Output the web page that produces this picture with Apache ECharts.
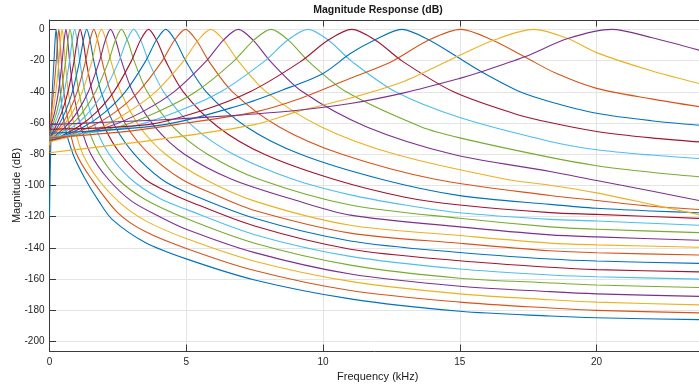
<!DOCTYPE html>
<html>
<head>
<meta charset="utf-8">
<script src="https://cdn.jsdelivr.net/npm/echarts@6/dist/echarts.min.js"></script>
<style>
  html, body { margin: 0; padding: 0; background: #ffffff; }
  #chart { width: 699px; height: 385px; }
</style>
</head>
<body>
<div id="chart"></div>
<script>
// Filter bank magnitude responses: each channel is a list of [frequency (kHz), magnitude (dB)].
const ch01 = [[0,-120],[0.02,-96],[0.05,-72],[0.09,-44],[0.163,-20.5],[0.204,-7],[0.24,0],[0.276,-7],[0.317,-20.5],[0.395,-40],[0.55,-61],[0.86,-80],[1.31,-96],[1.8,-110],[2.29,-121.7],[3.5,-136.5],[5,-147],[7.5,-160.5],[11,-172.6],[15,-180.5],[18.3,-183.6],[20,-184.7],[24,-186]];
const ch02 = [[0,-78],[0.06,-55],[0.152,-40],[0.246,-20.5],[0.296,-7],[0.34,0],[0.384,-7],[0.434,-20.5],[0.528,-40],[0.716,-62],[0.966,-79],[1.54,-96],[2.5,-117.5],[3.5,-129.5],[5,-140.3],[7.5,-154.5],[11,-167.3],[15,-174.7],[18.3,-178.5],[20,-180],[24,-181.7]];
const ch03 = [[0,-74],[0.04,-62],[0.12,-53],[0.233,-40],[0.346,-20.5],[0.407,-7],[0.46,0],[0.513,-7],[0.574,-20.5],[0.687,-40],[0.915,-62.5],[1.218,-80],[1.78,-96],[2.6,-111.5],[3.5,-122.5],[5,-134],[7.5,-148.5],[11,-161.4],[15,-169.4],[18.3,-173.2],[20,-174.7],[24,-176.6]];
const ch04 = [[0,-72],[0.053,-62],[0.19,-53],[0.326,-40],[0.463,-20.5],[0.536,-7],[0.6,0],[0.664,-7],[0.737,-20.5],[0.874,-40],[1.147,-62.5],[1.512,-80],[2.15,-96],[3,-110],[4,-119.7],[5,-128],[7.5,-143],[11,-156.7],[15,-164.5],[18.3,-168],[20,-169.4],[24,-171.1]];
const ch05 = [[0,-71],[0.104,-62],[0.265,-53],[0.427,-40],[0.588,-20.5],[0.675,-7],[0.75,0],[0.825,-7],[0.912,-20.5],[1.073,-40],[1.396,-62.5],[1.827,-80],[2.51,-96],[3.5,-109],[5,-121.2],[7.5,-137],[11,-151],[15,-159.4],[18.3,-162.4],[20,-163.7],[24,-165.4]];
const ch06 = [[0,-70],[0.162,-62],[0.351,-53],[0.541,-40],[0.73,-20.5],[0.832,-7],[0.92,0],[1.008,-7],[1.11,-20.5],[1.299,-40],[1.678,-62.5],[2.184,-80],[2.98,-96],[4,-108],[5,-115.3],[7.5,-131.5],[11,-145.4],[15,-153.5],[18.3,-157.3],[20,-158.4],[24,-160.1]];
const ch07 = [[0,-70],[0.23,-62],[0.452,-53],[0.675,-40],[0.897,-20.5],[1.016,-7],[1.12,0],[1.224,-7],[1.343,-20.5],[1.565,-40],[2.01,-62.5],[2.604,-80],[3.49,-96],[4.2,-103],[5,-109.4],[7.5,-126],[11,-140.8],[15,-148.2],[18.3,-152.4],[20,-153.9],[24,-155.4]];
const ch08 = [[0,-70],[0.311,-62],[0.573,-53],[0.836,-40],[1.098,-20.5],[1.238,-7],[1.36,0],[1.482,-7],[1.622,-20.5],[1.884,-40],[2.41,-62.5],[3.108,-80],[4.1,-96],[5,-104.3],[7.5,-121],[11,-135.5],[15,-142.9],[18.3,-147.1],[20,-148.4],[24,-150]];
const ch09 = [[0,-70],[0.4,-62],[0.705,-53],[1.01,-40],[1.315,-20.5],[1.478,-7],[1.62,0],[1.762,-7],[1.925,-20.5],[2.23,-40],[2.84,-62.5],[3.654,-80],[4.83,-96],[6,-105.5],[7.5,-116],[11,-130.5],[15,-137],[18.3,-141.8],[20,-143.1],[24,-144.6]];
const ch10 = [[0,-70],[0.495,-62],[0.846,-53],[1.197,-40],[1.549,-20.5],[1.736,-7],[1.9,0],[2.064,-7],[2.251,-20.5],[2.603,-40],[3.305,-62.5],[4.242,-80],[5.68,-96],[7.5,-110],[11,-125.5],[15,-132],[18.3,-136.9],[20,-138],[24,-139.7]];
const ch11 = [[0,-71],[0.607,-62],[1.013,-53],[1.419,-40],[1.824,-20.5],[2.041,-7],[2.23,0],[2.419,-7],[2.636,-20.5],[3.042,-40],[3.853,-62.5],[4.935,-80],[6.66,-96],[9,-109.5],[11,-119],[15,-126.5],[18.3,-131.6],[20,-132.9],[24,-135.2]];
const ch12 = [[0,-71],[0.744,-62],[1.215,-53],[1.687,-40],[2.158,-20.5],[2.41,-7],[2.63,0],[2.85,-7],[3.102,-20.5],[3.573,-40],[4.516,-62.5],[5.774,-80],[7.66,-96],[11,-112.5],[15,-121],[18.3,-126.5],[20,-128],[24,-130.3]];
const ch13 = [[0,-71],[0.896,-62],[1.442,-53],[1.988,-40],[2.534,-20.5],[2.825,-7],[3.08,0],[3.335,-7],[3.626,-20.5],[4.172,-40],[5.264,-62.5],[6.72,-80],[8.9,-96],[11,-106],[13,-112.5],[15,-117.5],[18.3,-121.7],[20,-122.7],[24,-125.7]];
const ch14 = [[0,-72],[1.08,-62],[1.715,-53],[2.35,-40],[2.985,-20.5],[3.324,-7],[3.62,0],[3.916,-7],[4.255,-20.5],[4.89,-40],[6.16,-62.5],[7.854,-80],[10.39,-96],[13,-107.5],[15,-112.5],[18.3,-117.4],[20,-118.5],[24,-121.2]];
const ch15 = [[0,-72],[1.29,-62],[2.03,-53],[2.77,-40],[3.51,-20.5],[3.905,-7],[4.25,0],[4.595,-7],[4.989,-20.5],[5.728,-40],[7.206,-62.5],[9.176,-80],[12.13,-96],[15,-106.5],[18.3,-112.1],[20,-114.6],[22,-116.3],[24,-117.6]];
const ch16 = [[0,-72],[1.54,-62],[2.4,-53],[3.25,-40],[4.11,-20.5],[4.57,-7],[4.97,0],[5.37,-7],[5.83,-20.5],[6.69,-40],[8.4,-62.5],[10.69,-80],[14.1,-96],[18.3,-106.4],[20,-109.6],[22,-113.3],[24,-115.6]];
const ch17 = [[0,-72],[1.86,-63],[2.87,-53],[3.88,-40],[4.89,-20.5],[5.43,-7],[5.9,0],[6.37,-7],[6.91,-20.5],[7.92,-40],[9.94,-62.5],[12.64,-80],[16.68,-96],[18.3,-99.8],[20,-104.7],[22,-112.1],[24,-119.6]];
const ch18 = [[0,-71],[2.2,-62],[3.37,-53],[4.55,-40],[5.72,-20.5],[6.35,-7],[6.9,0],[7.45,-7],[8.08,-20.5],[9.25,-40],[11.6,-62.5],[14.74,-80],[18.3,-91],[20,-96.8],[22,-103.5],[24,-110.5]];
const ch19 = [[0,-70],[2.6,-62],[4,-52.5],[5.35,-40],[6.73,-20.5],[7.46,-7],[8.1,0],[8.74,-7],[9.47,-20.5],[10.85,-40],[13.6,-62.5],[15,-69.5],[18.3,-82],[20,-87.3],[22,-91.5],[24,-94.8]];
const ch20 = [[0,-69],[3.06,-62],[4.7,-52.5],[6.26,-40],[7.85,-20.5],[8.7,-7],[9.45,0],[10.2,-7],[11.05,-20.5],[12.65,-40],[15,-56.5],[18.3,-71.8],[20,-77.1],[22,-80.5],[24,-83]];
const ch21 = [[0,-64],[3.6,-61],[5.5,-52.5],[7.33,-40],[9.19,-20.5],[10.18,-7],[11.05,0],[11.92,-7],[12.91,-20.5],[14.77,-40],[17,-54],[18.3,-59.7],[20,-65.4],[22,-69.5],[24,-72.4]];
const ch22 = [[0,-66.5],[4.2,-61],[7,-48.4],[8.5,-39],[10,-28.2],[11,-15.5],[11.87,-7],[12.88,0],[13.89,-7],[15,-18.7],[15.79,-27.2],[17.2,-40],[18.3,-46.3],[20,-53.7],[22,-58.5],[24,-61.8]];
const ch23 = [[0,-69.5],[3,-65],[5,-60],[7.5,-53],[9,-45.3],[11,-31.3],[12.5,-20.7],[13.85,-7],[15.03,0],[16.2,-7],[17.37,-17.6],[18.5,-28],[20,-37.8],[22,-44.5],[24,-50.2]];
const ch24 = [[0,-79],[4.2,-70],[7.5,-61],[9,-53],[11,-44],[13,-33],[15,-16.6],[16.3,-6.5],[17.7,0],[18.95,-5.9],[20,-14.9],[22,-26.5],[24,-35.8]];
const ch25 = [[0,-61],[4,-58],[7,-54.8],[9,-52],[11,-47.5],[13,-40.5],[15,-31.4],[15.79,-27.2],[17.37,-17.6],[18.95,-5.9],[20.55,0],[22,-5.2],[24,-14.5]];

const channels = [ch01, ch02, ch03, ch04, ch05, ch06, ch07, ch08, ch09, ch10, ch11, ch12, ch13,
                  ch14, ch15, ch16, ch17, ch18, ch19, ch20, ch21, ch22, ch23, ch24, ch25];

// Axis ticks
const xTickValues = [0, 5, 10, 15, 20];
const yTickValues = [-200, -180, -160, -140, -120, -100, -80, -60, -40, -20, 0];

// MATLAB default line colour order
const colorOrder = ['#0072BD', '#D95319', '#EDB120', '#7E2F8E', '#77AC30', '#4DBEEE', '#A2142F'];

const axisColor = '#3a3a3a';
const gridColor = '#e4e4e4';
const font = 'Liberation Sans, Arial, Helvetica, sans-serif';

const chart = echarts.init(document.getElementById('chart'), null, { renderer: 'canvas' });

const series = channels.map((pts, i) => ({
  type: 'line',
  data: pts,
  xAxisIndex: 0,
  yAxisIndex: 0,
  showSymbol: false,
  smooth: 0.3,
  clip: true,
  silent: true,
  lineStyle: { width: 1.1, color: colorOrder[i % colorOrder.length] },
  itemStyle: { color: colorOrder[i % colorOrder.length] },
  z: 3
}));

const xStep = xTickValues[1] - xTickValues[0];
const yStep = yTickValues[1] - yTickValues[0];

chart.setOption({
  animation: false,
  backgroundColor: '#ffffff',
  grid: { left: 49.5, right: -7, top: 20, bottom: 34, containLabel: false, outerBoundsMode: 'none' },
  graphic: [{
    type: 'text',
    x: 378, y: 5,
    style: {
      text: 'Magnitude Response (dB)',
      font: 'bold 10.5px ' + font,
      fill: '#1a1a1a',
      textAlign: 'center',
      textVerticalAlign: 'top'
    }
  }],
  xAxis: [{
    type: 'value',
    min: xTickValues[0],
    max: 24,
    interval: xStep,
    position: 'bottom',
    name: 'Frequency (kHz)',
    nameLocation: 'middle',
    nameGap: 20,
    nameMoveOverlap: false,
    nameTextStyle: { color: '#1a1a1a', fontSize: 11, fontFamily: font },
    axisLine: { show: true, onZero: false, lineStyle: { color: axisColor, width: 1 } },
    axisTick: { show: true, inside: true, length: 6.5, lineStyle: { color: axisColor, width: 1 } },
    axisLabel: { color: '#262626', fontSize: 10, fontFamily: font, margin: 6, showMaxLabel: false },
    splitLine: { show: true, lineStyle: { color: gridColor, width: 1 } }
  }, {
    type: 'value',
    min: xTickValues[0],
    max: 24,
    interval: xStep,
    position: 'top',
    axisLine: { show: true, onZero: false, lineStyle: { color: axisColor, width: 1 } },
    axisTick: { show: true, inside: true, length: 6.5, lineStyle: { color: axisColor, width: 1 } },
    axisLabel: { show: false },
    splitLine: { show: false }
  }],
  yAxis: [{
    type: 'value',
    min: -206,
    max: 6,
    splitNumber: 10,
    minInterval: yStep,
    maxInterval: yStep,
    name: 'Magnitude (dB)',
    nameLocation: 'middle',
    nameGap: 27,
    nameMoveOverlap: false,
    nameTextStyle: { color: '#1a1a1a', fontSize: 11, fontFamily: font },
    axisLine: { show: true, onZero: false, lineStyle: { color: axisColor, width: 1 } },
    axisTick: { show: true, inside: true, length: 6.5, lineStyle: { color: axisColor, width: 1 } },
    axisLabel: { color: '#262626', fontSize: 10, fontFamily: font, margin: 5, showMinLabel: false, showMaxLabel: false },
    splitLine: { show: true, lineStyle: { color: gridColor, width: 1 } }
  }],
  series: series
});
</script>
</body>
</html>
